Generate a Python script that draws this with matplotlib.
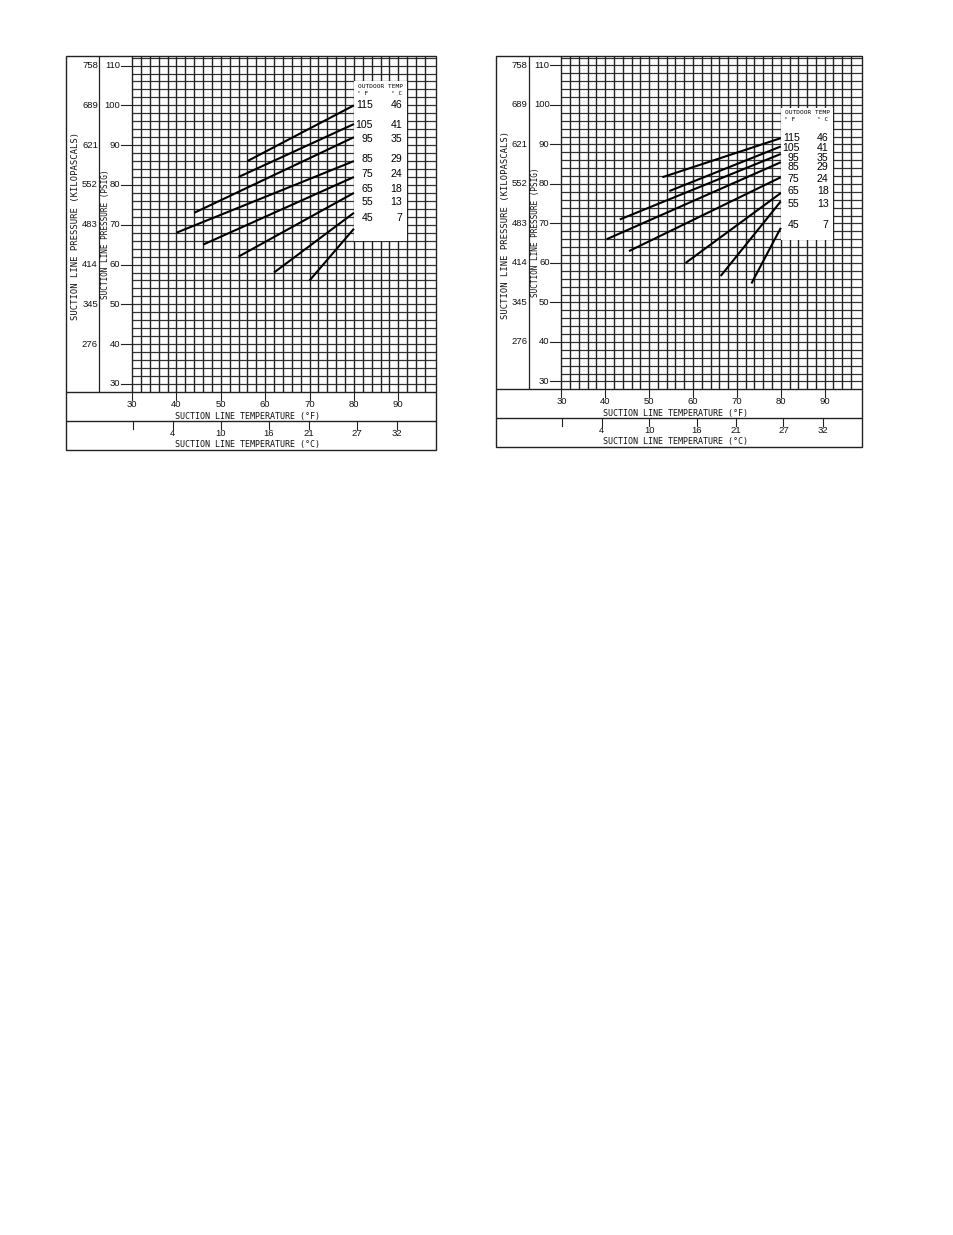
import numpy as np
import matplotlib
matplotlib.use("Agg")
import matplotlib.pyplot as plt
from matplotlib.patches import Rectangle

# outdoor temperature curves (same for both charts)
outdoor_f = [115, 105, 95, 85, 75, 65, 55, 45]
outdoor_c = [46, 41, 35, 29, 24, 18, 13, 7]

# left chart: each curve runs from (start temp, start psig) to (80 F, end psig)
left_start_temp = [56, 54, 44, 40, 46, 54, 62, 70]
left_start_psig = [86, 82, 73, 68, 65, 62, 58, 56]
left_end_psig = [100, 95.3, 92, 86, 82, 78, 73, 69]
left_label_psig = [100, 95, 91.6, 86.5, 82.8, 79.1, 75.8, 71.8]
left_legend_box = (106, 66)   # top, bottom in psig

# right chart
right_start_temp = [53, 54.6, 43.3, 40.3, 45.4, 58.3, 66.3, 73.3]
right_start_psig = [81.7, 78.2, 71, 66, 63, 60, 56.7, 54.8]
right_end_psig = [91.6, 89.5, 87.6, 85.5, 81.7, 77.7, 75.6, 68.9]
right_label_psig = [91.6, 89.1, 86.7, 84.4, 81.3, 78.1, 74.9, 69.6]
right_legend_box = (99.3, 65.7)

end_temp = 80

# axis scales
psig_ticks = [110, 100, 90, 80, 70, 60, 50, 40, 30]
kpa_labels = ['758', '689', '621', '552', '483', '414', '345', '276']
temp_f_ticks = [30, 40, 50, 60, 70, 80, 90]
temp_c_ticks = [-1, 4, 10, 16, 21, 27, 32]
temp_c_labels = ['', '4', '10', '16', '21', '27', '32']

W, H = 954, 1235
XMIN, XMAX = 15.1, 98.5
YMIN, YMAX = 13.4, 112.4
GRID_BOT = 28.0
C_SEP = 20.7
DIVIDER = 22.6

NUM = dict(family='Liberation Sans', fontsize=6.8, color='#111')
CAP = dict(family='DejaVu Sans Mono', fontsize=6.0, color='#111')

fig = plt.figure(figsize=(W / 100, H / 100), dpi=100)


def draw_chart(px_left, px_top, px_w, px_h, start_t, start_p, end_p, label_p, box):
    ax = fig.add_axes([px_left / W, 1 - (px_top + px_h) / H, px_w / W, px_h / H])
    ax.set_xlim(XMIN, XMAX)
    ax.set_ylim(YMIN, YMAX)
    ax.set_axis_off()

    # outer frame and strip separators
    ax.add_patch(Rectangle((XMIN, YMIN), XMAX - XMIN, YMAX - YMIN, fill=False,
                           lw=1.0, ec='#222', clip_on=False))
    ax.hlines([GRID_BOT, C_SEP], XMIN, XMAX, color='#222', lw=1.0)
    ax.vlines(DIVIDER, GRID_BOT, YMAX, color='#222', lw=0.9)

    # grid, 2 F by 2 psig
    ax.hlines(np.arange(30, 113, 2), 30, XMAX, color='#333', lw=0.9)
    ax.vlines(np.arange(30, 97, 2), GRID_BOT, YMAX, color='#222', lw=1.0)

    # legend box
    ax.add_patch(Rectangle((80, box[1]), 12, box[0] - box[1], fc='white', ec='none', zorder=3))
    ax.text(86.1, box[0] - 1.3, 'OUTDOOR TEMP', family='DejaVu Sans Mono', fontsize=4.4,
            ha='center', va='center', zorder=4)
    ax.text(82, box[0] - 3.0, '° F', family='DejaVu Sans Mono', fontsize=4.4,
            ha='center', va='center', zorder=4)
    ax.text(89.6, box[0] - 3.0, '° C', family='DejaVu Sans Mono', fontsize=4.4,
            ha='center', va='center', zorder=4)
    for f, c, p in zip(outdoor_f, outdoor_c, label_p):
        ax.text(84.3, p, str(f), ha='right', va='center', zorder=4,
                family='Liberation Sans', fontsize=7.6)
        ax.text(90.9, p, str(c), ha='right', va='center', zorder=4,
                family='Liberation Sans', fontsize=7.6)

    # curves
    for t0, p0, p1 in zip(start_t, start_p, end_p):
        ax.plot([t0, end_temp], [p0, p1], color='black', lw=1.5,
                solid_capstyle='butt', zorder=5)

    # pressure scales
    for p in psig_ticks:
        ax.plot([27.5, 30], [p, p], color='#222', lw=0.8)
        ax.text(27.3, p, str(p), ha='right', va='center', **NUM)
    for p, k in zip(psig_ticks, kpa_labels):
        ax.text(22.3, p, k, ha='right', va='center', **NUM)

    # temperature scales
    for t in temp_f_ticks:
        ax.plot([t, t], [GRID_BOT, GRID_BOT - 2], color='#222', lw=0.8)
        ax.text(t, 24.9, str(t), ha='center', va='center', **NUM)
    for c, lab in zip(temp_c_ticks, temp_c_labels):
        tf = c * 1.8 + 32
        ax.plot([tf, tf], [C_SEP, C_SEP - 2], color='#222', lw=0.8)
        ax.text(tf, 17.5, lab, ha='center', va='center', **NUM)

    ax.text(56, 21.9, 'SUCTION LINE TEMPERATURE (°F)', ha='center', va='center', **CAP)
    ax.text(56, 14.7, 'SUCTION LINE TEMPERATURE (°C)', ha='center', va='center', **CAP)
    ax.text(17.2, 69.7, 'SUCTION LINE PRESSURE (KILOPASCALS)', rotation=90,
            ha='center', va='center', family='DejaVu Sans Mono', fontsize=6.4, color='#111')
    ax.text(24.0, 67.7, 'SUCTION LINE PRESSURE (PSIG)', rotation=90,
            ha='center', va='center', family='DejaVu Sans Mono', fontsize=5.6, color='#111')
    return ax


draw_chart(66, 56, 370, 394, left_start_temp, left_start_psig, left_end_psig,
           left_label_psig, left_legend_box)
draw_chart(496, 56, 366, 391, right_start_temp, right_start_psig, right_end_psig,
           right_label_psig, right_legend_box)

fig.savefig('out.png', dpi=100, facecolor='white')
